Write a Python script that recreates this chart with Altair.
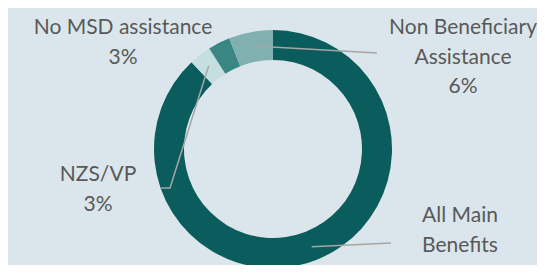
import math
import altair as alt
import pandas as pd

# ---- data ----
categories = ["All Main Benefits", "NZS/VP", "No MSD assistance", "Non Beneficiary Assistance"]
values = [88, 3, 3, 6]
label_lines = [["All Main", "Benefits"], ["NZS/VP"], ["No MSD assistance"], ["Non Beneficiary", "Assistance"]]

# ---- style / layout ----
colors = ["#0b5c5c", "#c5dfe0", "#3a8685", "#80b0b0"]
BG = "#dae6eb"
TEXT = "#595959"
LEAD = "#a6a6a6"
W, H = 529, 257
CX, CY = 265, 141
R_OUT, R_IN = 119, 89
R_MID = 105
FONT = "Lato"
FS = 21
LH = 29.5

# label anchor (centre of first line) per category
label_anchor = {
    "All Main Benefits": (452, 208),
    "NZS/VP": (90, 167),
    "No MSD assistance": (115, 20),
    "Non Beneficiary Assistance": (455, 20),
}
# leader line points after the start point on the ring
leader_rest = {
    "All Main Benefits": [(383, 235)],
    "NZS/VP": [(162, 180), (153, 180)],
    "Non Beneficiary Assistance": [(369, 45)],
}

total = sum(values)
arc_df = pd.DataFrame({"category": categories, "value": values, "order": list(range(len(values)))})

# leader lines start on the ring at each slice's mid angle
line_rows = []
cum = 0
for cat, v in zip(categories, values):
    mid = (cum + v / 2) / total * 2 * math.pi
    cum += v
    if cat in leader_rest:
        sx = CX + R_MID * math.sin(mid)
        sy = CY - R_MID * math.cos(mid)
        pts = [(sx, sy)] + leader_rest[cat]
        for i, (px, py) in enumerate(pts):
            line_rows.append({"category": cat, "i": i, "x": px, "y": py})
line_df = pd.DataFrame(line_rows)

text_rows = []
for cat, v, lines in zip(categories, values, label_lines):
    ax, ay = label_anchor[cat]
    for i, t in enumerate(lines + [f"{v}%"]):
        text_rows.append({"text": t, "x": ax, "y": ay + i * LH})
text_df = pd.DataFrame(text_rows)

arcs = alt.Chart(arc_df).mark_arc(innerRadius=R_IN, outerRadius=R_OUT, strokeWidth=0).encode(
    theta=alt.Theta("value:Q", stack=True),
    order=alt.Order("order:Q"),
    color=alt.Color("category:N", scale=alt.Scale(domain=categories, range=colors), legend=None),
    x=alt.value(CX),
    y=alt.value(CY),
)

leaders = alt.Chart(line_df).mark_line(color=LEAD, strokeWidth=1.5).encode(
    x=alt.X("x:Q", scale=None, axis=None),
    y=alt.Y("y:Q", scale=None, axis=None),
    detail="category:N",
    order="i:Q",
)

labels = alt.Chart(text_df).mark_text(
    font=FONT, fontSize=FS, color=TEXT, align="center", baseline="middle"
).encode(
    x=alt.X("x:Q", scale=None, axis=None),
    y=alt.Y("y:Q", scale=None, axis=None),
    text="text:N",
)

chart = alt.layer(arcs, leaders, labels).properties(
    width=W, height=H, padding=0, background=BG,
    autosize=alt.AutoSizeParams(type="none"),
).configure_view(stroke=None)

chart.save("out.html", embed_options={"renderer": "svg", "actions": False})
